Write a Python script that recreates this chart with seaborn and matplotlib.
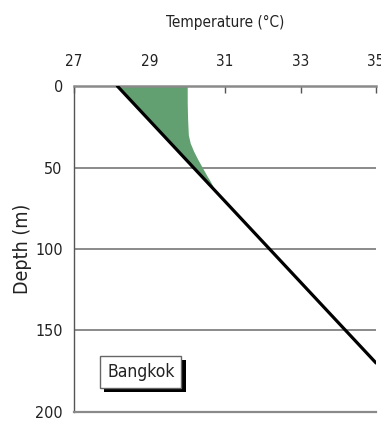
import matplotlib
matplotlib.use("Agg")
import matplotlib.pyplot as plt
import matplotlib.patheffects as pe
import seaborn as sns
import pandas as pd

# Temperature profile (degC) versus depth (m)
line_depth = [0, 170]
line_temp = [28.15, 35.0]

# Warm surface layer above the linear profile
warm_depth = [0, 10, 20, 30, 35, 40, 45, 50, 55, 58, 61, 64]
warm_temp = [30.0, 30.0, 30.01, 30.03, 30.08, 30.17, 30.28, 30.4, 30.52, 30.6, 30.67, 30.73]

x_ticks = [27, 29, 31, 33, 35]
y_ticks = [0, 50, 100, 150, 200]

sns.set_theme(style="white")
plt.rcParams["font.family"] = ["DejaVu Sans"]
plt.rcParams["font.stretch"] = "condensed"

fig = plt.figure(figsize=(3.81, 4.22), dpi=100)
ax = fig.add_axes([0.194, 0.024, 0.793, 0.772])

# base of the warm layer follows the linear profile
base_at = [line_temp[0] + (line_temp[1] - line_temp[0]) * d / line_depth[1] for d in warm_depth]
ax.fill_betweenx(warm_depth, base_at, warm_temp, color="#62a071", lw=0,
                 zorder=2)

df = pd.DataFrame({"temp": line_temp, "depth": line_depth})
sns.lineplot(data=df, x="temp", y="depth", ax=ax, color="black", lw=2.3,
             sort=False, zorder=3)

ax.set_xlim(27, 35)
ax.set_ylim(200, 0)
ax.set_xticks(x_ticks)
ax.set_yticks(y_ticks)

ax.xaxis.set_ticks_position("top")
ax.xaxis.set_label_position("top")
ax.tick_params(axis="x", direction="in", length=5, width=1, color="#555555",
               pad=12, labelsize=11, labelcolor="#222222")
ax.tick_params(axis="y", length=0, pad=8, labelsize=11.5, labelcolor="#222222")

for yv in y_ticks[1:-1]:
    ax.axhline(yv, color="#8a8a8a", lw=1.4, zorder=1)

ax.spines["right"].set_visible(False)
ax.spines["top"].set_color("#8a8a8a")
ax.spines["top"].set_linewidth(1.8)
ax.spines["bottom"].set_color("#8a8a8a")
ax.spines["bottom"].set_linewidth(1.6)
ax.spines["left"].set_color("#555555")
ax.spines["left"].set_linewidth(1.0)

ax.set_xlabel("Temperature (°C)", fontsize=11, labelpad=20, color="#222222")
ax.set_ylabel("Depth (m)", fontsize=14, labelpad=2, color="#222222")

t = ax.text(28.77, 175.5, "Bangkok", fontsize=12.5, ha="center", va="center",
            color="#222222", zorder=4,
            bbox=dict(boxstyle="square,pad=0.4", fc="white", ec="#666666", lw=1.0))
t.get_bbox_patch().set_path_effects([
    pe.SimplePatchShadow(offset=(3, -3), shadow_rgbFace="black", alpha=1.0),
    pe.Normal()])

fig.savefig("out.png", dpi=100)
